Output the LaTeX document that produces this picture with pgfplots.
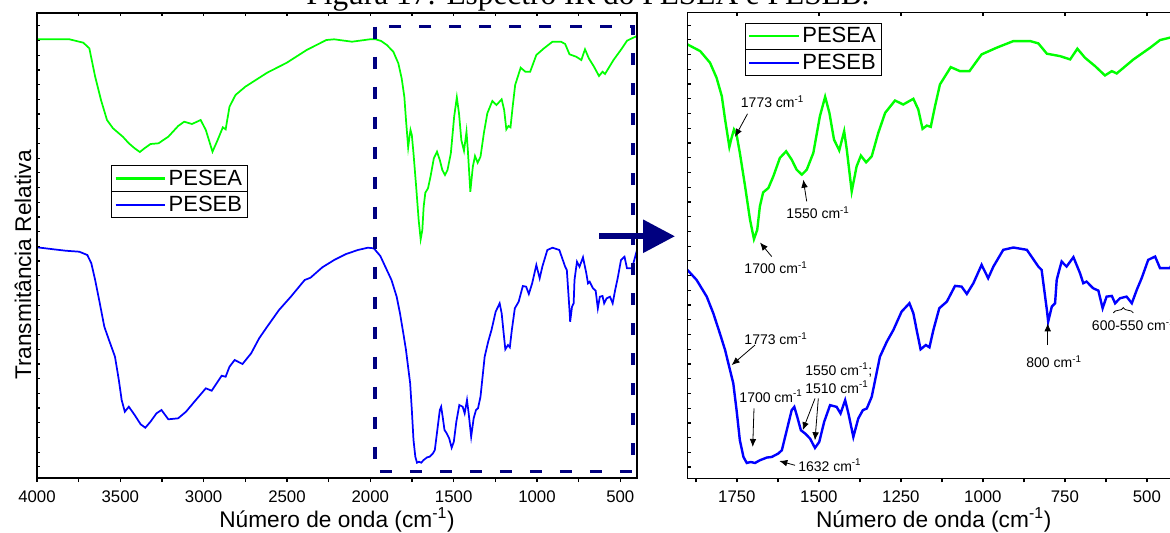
\documentclass[border=0pt]{standalone}
\usepackage{fontspec}
\setmainfont{Liberation Sans}
\newfontfamily\titlefont{Liberation Serif}
\usepackage{pgfplots}
\usepackage{pgfplotstable}
\pgfplotsset{compat=1.18}
\usetikzlibrary{arrows.meta,decorations.pathreplacing}
\definecolor{pgreen}{RGB}{0,255,0}
\definecolor{pblue}{RGB}{0,0,255}
\definecolor{navyc}{RGB}{0,0,128}
\newcommand\cmi{cm\textsuperscript{-1}}

\pgfplotstableread{
w Y
4000 39.3
3805 39.3
3722 42.7
3686 48.3
3651 76.7
3616 100
3580 120
3544 128.3
3485 136.7
3449 143.3
3414 148.3
3383 152
3355 148.3
3319 144
3271 143.3
3212 136.7
3153 126
3117 121.7
3070 124
3018 120
2987 130
2947 151.7
2916 140
2885 127.3
2868 129.3
2845 106.7
2809 95
2750 86.7
2619 72.7
2501 62.7
2382 50
2264 40
2217 39.3
2110 41.7
2003 39.3
1968 39.3
1935 41
1901 45
1862 51.7
1832 63.3
1812 78.3
1796 96.7
1786 120
1773 147.3
1766 138
1759 130
1751 135
1741 153.3
1725 186.7
1710 220
1698 239.3
1688 230
1680 206.7
1670 192.7
1654 188.3
1639 176.7
1619 158.3
1600 151.7
1583 160
1568 170
1552 175
1537 170
1517 153.3
1497 116.7
1481 97.3
1468 113.3
1454 140
1438 150.7
1423 131.7
1415 150
1400 191.7
1385 166.7
1372 156
1356 162.7
1339 156.7
1319 133.3
1298 113.3
1268 101
1243 105
1212 99.3
1197 110
1184 129.3
1171 126
1159 127.3
1146 106.7
1131 85
1098 67.7
1070 71.7
1041 71.7
1004 55
958 48.3
907 41.7
856 41.7
831 44
805 54.3
765 56.7
734 60
712 49.3
689 58.3
658 66.7
628 76
607 71.7
592 74
541 60
490 48.3
460 40.7
430 38.3
400 36
}\pesea

\pgfplotstableread{
w Y
4000 247.3
3900 249.3
3828 250.7
3746 251.7
3698 255
3674 263.3
3651 280
3627 300
3596 326.7
3568 340
3532 356.7
3509 380
3492 400
3473 411.7
3449 406.7
3414 415
3378 424.3
3350 427.7
3319 421.7
3283 413.3
3253 410
3212 419.3
3153 418.3
3106 411.7
3047 400
2987 388.3
2952 390.7
2916 381.7
2892 375.7
2868 376.7
2845 366.7
2814 360
2767 364
2715 353.3
2667 338.3
2619 326.7
2548 310
2477 296.7
2394 280
2359 277.7
2288 267.3
2217 260
2145 254
2075 250
2015 247.7
1979 248.3
1940 256
1901 270
1873 280
1842 296.7
1822 313.3
1802 333.3
1786 350
1771 370
1761 383.3
1751 410
1741 440
1730 456.7
1720 462.7
1708 461.7
1695 462.7
1680 460
1659 457.3
1644 456.7
1624 453.3
1613 450
1598 430
1583 410
1575 406.7
1566 416.7
1555 430
1542 433.3
1527 438.3
1512 447.7
1499 441.7
1484 421.7
1466 405
1446 406.7
1434 413.3
1420 400
1410 413.3
1395 436.7
1380 418.3
1366 410
1354 408.3
1339 396.7
1314 356.7
1293 341.7
1273 330
1248 311.7
1224 303.3
1212 313.3
1202 330
1190 349.3
1174 345
1163 347.3
1151 330
1133 308.3
1110 301.7
1085 286
1065 286.7
1049 294
1029 283.3
1004 265
984 278.3
968 266.7
938 250
907 247.7
866 250
831 266.7
821 270
805 310
801 321.7
790 306.7
780 303.3
775 280
767 270
760 261.7
745 266.7
724 257.3
704 273.3
694 283.3
684 281.7
664 288.3
648 290.7
635 308.3
623 296.7
607 296
597 303.3
582 298.3
562 296.7
546 303.3
531 290
516 278.3
496 260
475 256.7
460 268.3
430 268.3
400 250
}\peseb

\pgfplotsset{
  ircommon/.style={
    scale only axis,
    x dir=reverse, y dir=reverse,
    ymin=13, ymax=478,
    axis line style={line width=0.9pt},
    every tick/.style={line width=0.9pt, black},
    /pgf/number format/assume math mode=true,
    /pgf/number format/1000 sep={},
    tick label style={font=\fontsize{12.6}{14}\selectfont},
    clip mode=individual,
  },
  irticks/.style={
    xtick pos=left, xtick align=outside, ytick=\empty,
    major tick length=3pt, minor tick length=3pt,
    xticklabel style={anchor=north, inner sep=0pt, yshift=-6pt},
    every axis x label/.style={at={(axis description cs:0.5,0)}, anchor=base, yshift=-36.75pt,
      font=\fontsize{17}{20}\selectfont},
  },
  irframe/.style={
    xtick pos=right, xtick align=inside, xticklabel=\empty,
    ytick={25.8,40.5,...,466.9}, ytick pos=left, ytick align=inside, yticklabel=\empty,
    major tick length=2.5pt,
  },
  irlegend/.style={
    legend cell align=left,
    legend image code/.code={\draw[##1, line width=1.6pt] (0pt,0pt) -- (37pt,0pt);},
    legend style={draw=black, line width=0.8pt, font=\fontsize{16.5}{18}\selectfont,
      inner xsep=2pt, inner ysep=1pt, row sep=3pt,
      nodes={inner sep=2pt}},
  },
}

\begin{document}
\begin{tikzpicture}
% ---------------- left panel ----------------
\begin{axis}[ircommon, irticks, irlegend,
  at={(27.75pt,-358.5pt)}, anchor=south west,
  width=450pt, height=348.75pt,
  xmin=400, xmax=4000,
  xtick={500,1000,...,4000},
  minor xtick={750,1250,...,3750},
  xlabel={Número de onda (\cmi)},
  ylabel={Transmitância Relativa},
  every axis y label/.style={at={(axis description cs:-0.0233,0.458)}, rotate=90, anchor=center,
    font=\fontsize{17}{20}\selectfont},
  legend style={at={(axis description cs:0.124,0.6725)}, anchor=north west, name=legL},
]
\addplot[pgreen, line width=1.3pt] table[x=w, y=Y] {\pesea};
\addlegendentry{PESEA}
\addplot[pblue, line width=1.3pt] table[x=w, y=Y] {\peseb};
\addlegendentry{PESEB}
\draw[navyc, line width=2.6pt, dash pattern=on 9pt off 13.5pt]
  (axis cs:1973,26.7) rectangle (axis cs:423,471.7);
\end{axis}
\draw[line width=0.8pt] (legL.west) -- (legL.east);
\begin{axis}[ircommon, irframe,
  at={(27.75pt,-358.5pt)}, anchor=south west,
  width=450pt, height=348.75pt,
  xmin=400, xmax=4000,
  xtick={500,750,...,3750},
]
\end{axis}

% ---------------- right panel ----------------
\begin{axis}[ircommon, irticks, irlegend,
  at={(515.78pt,-358.73pt)}, anchor=south west,
  width=369pt, height=349.5pt,
  xmin=400, xmax=1900,
  xtick={500,750,...,1750},
  minor xtick={625,875,...,1875},
  xlabel={Número de onda (\cmi)},
  legend style={at={(axis description cs:0.1165,0.9777)}, anchor=north west, name=legR},
]
\addplot[pgreen, line width=1.8pt] table[x=w, y=Y] {\pesea};
\addlegendentry{PESEA}
\addplot[pblue, line width=1.8pt] table[x=w, y=Y] {\peseb};
\addlegendentry{PESEB}
\tikzset{ann/.style={font=\fontsize{10.5}{12}\selectfont, inner sep=0pt},
         aarr/.style={line width=0.6pt, -{Latex[length=6pt,width=5pt]}}}
% PESEA annotations
\node[ann] at (axis cs:1641.5,102) {1773 \cmi};
\draw[aarr] (axis cs:1717.7,114.3) -- (axis cs:1755.8,137.3);
\node[ann] at (axis cs:1502.7,213) {1550 \cmi};
\draw[aarr] (axis cs:1537.2,201.7) -- (axis cs:1547.6,180);
\node[ann] at (axis cs:1630.8,268) {1700 \cmi};
\draw[aarr] (axis cs:1643.9,256.7) -- (axis cs:1679.6,242.7);
% PESEB annotations
\node[ann] at (axis cs:1630.8,339) {1773 \cmi};
\draw[aarr] (axis cs:1694.8,345) -- (axis cs:1765.9,365);
\node[ann, anchor=west] at (axis cs:1542.3,370) {1550 \cmi;};
\node[ann, anchor=west] at (axis cs:1542.3,387) {1510 \cmi};
\draw[aarr] (axis cs:1511.9,398.3) -- (axis cs:1549.4,430);
\draw[aarr] (axis cs:1501.8,398.3) -- (axis cs:1512,440);
\node[ann] at (axis cs:1646,396) {1700 \cmi};
\draw[aarr] (axis cs:1697.9,408.3) -- (axis cs:1701.8,446.7);
\node[ann, anchor=west] at (axis cs:1563.7,465) {1632 \cmi};
\draw[aarr] (axis cs:1572.9,465) -- (axis cs:1620.7,460.7);
\node[ann] at (axis cs:783.2,361.5) {800 \cmi};
\draw[aarr] (axis cs:802.4,345) -- (axis cs:802.4,323.3);
\node[ann, anchor=west] at (axis cs:668.3,325) {600-550 \cmi};
\draw[line width=0.6pt, decorate, decoration={brace, amplitude=4pt}]
  (axis cs:602.4,313) -- (axis cs:541.5,313);
\end{axis}
\draw[line width=0.8pt] (legR.west) -- (legR.east);
\begin{axis}[ircommon, irframe,
  at={(515.78pt,-358.73pt)}, anchor=south west,
  width=369pt, height=349.5pt,
  xmin=400, xmax=1900,
  xtick={500,750,...,1750},
]
\end{axis}

% ---------------- big arrow and title ----------------
\draw[navyc, line width=4.5pt, -{Triangle[length=24pt,width=24pt]}]
  (449.5pt,-177.2pt) -- (506.25pt,-177.2pt);
\node[anchor=base, font=\titlefont\fontsize{23.5}{26}\selectfont, inner sep=0pt]
  at (441pt,-3pt) {Figura 17: Espectro IR do PESEA e PESEB.};

\pgfresetboundingbox
\useasboundingbox (0pt,0pt) rectangle (877.5pt,-399pt);
\end{tikzpicture}
\end{document}
